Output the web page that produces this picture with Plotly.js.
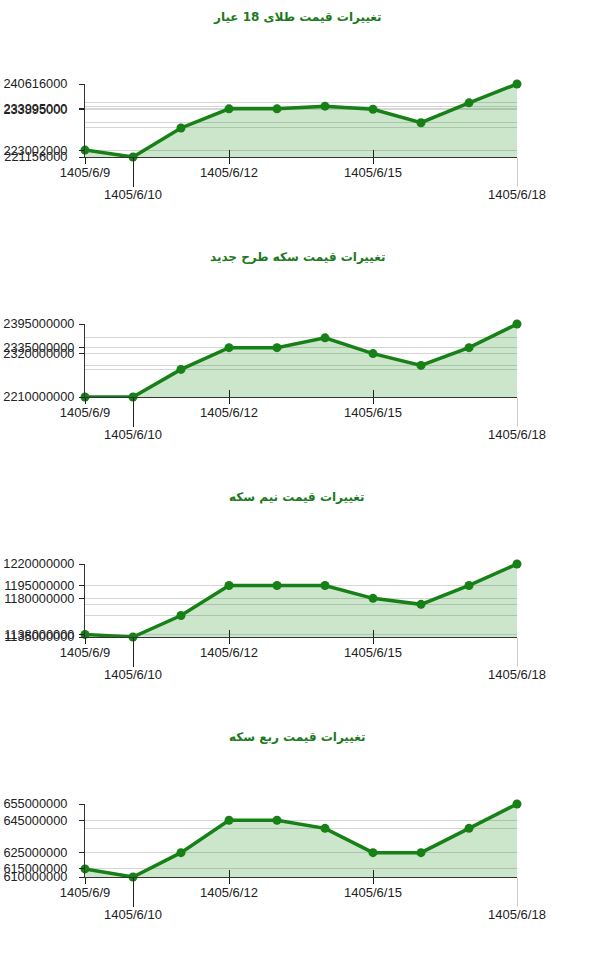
<!DOCTYPE html>
<html>
<head>
<meta charset="utf-8">
<script src="https://cdn.plot.ly/plotly-3.0.1.min.js"></script>
<style>
  html, body { margin: 0; padding: 0; background: #fff; }
  #chart { width: 600px; height: 960px; }
</style>
</head>
<body>
<div id="chart"></div>
<script>
    // --- DATA ---
    const days = [9, 10, 11, 12, 13, 14, 15, 16, 17, 18];
    const dateLabels = days.map(d => '1405/6/' + d);
    const upperDays = [9, 12, 15];     // labels on the first row
    const lowerDays = [10];            // labels pushed to the second row
    const lastDay = [18];              // second row, grey tick

    const titles = [
        'تغییرات قیمت طلای 18 عیار',
        'تغییرات قیمت سکه طرح جدید',
        'تغییرات قیمت نیم سکه',
        'تغییرات قیمت ربع سکه'
    ];

    const gold18 = [223002000, 221156000, 228900000, 233995000, 233995000, 234700000, 233895000, 230300000, 235600000, 240616000];
    const coinNew = [2210000000, 2210000000, 2280000000, 2335000000, 2335000000, 2360000000, 2320000000, 2290000000, 2335000000, 2395000000];
    const halfCoin = [1138000000, 1135000000, 1160000000, 1195000000, 1195000000, 1195000000, 1180000000, 1173000000, 1195000000, 1220000000];
    const quarterCoin = [615000000, 610000000, 625000000, 645000000, 645000000, 640000000, 625000000, 625000000, 640000000, 655000000];

    const series = [gold18, coinNew, halfCoin, quarterCoin];

    // --- STYLE ---
    const W = 600, H = 960;
    const green = '#178017';
    const tickFont = { family: 'Liberation Sans, Arial, sans-serif', size: 13, color: '#222' };
    const px = (v) => 1 - v / H;

    const traces = [];
    const layout = {
        width: W, height: H,
        margin: { l: 0, r: 0, t: 0, b: 0 },
        paper_bgcolor: '#fff',
        plot_bgcolor: 'rgba(0,0,0,0)',
        showlegend: false,
        annotations: []
    };

    series.forEach((vals, k) => {
        const off = 240 * k;
        const yId = k + 1;
        const xMain = 4 * k + 1;
        const yName = 'yaxis' + (yId === 1 ? '' : yId);
        const xName = (n) => 'xaxis' + (n === 1 ? '' : n);
        const xRef = (n) => 'x' + (n === 1 ? '' : n);
        const yRef = 'y' + (yId === 1 ? '' : yId);

        const minV = Math.min(...vals), maxV = Math.max(...vals);
        const labelDays = [9, 10, 12, 15, 18];
        const labelVals = labelDays.map(d => vals[days.indexOf(d)]);
        const longest = Math.max(...labelVals.map(v => String(v).length));

        // overlay axes only get drawn when a trace sits on them
        for (let j = 1; j <= 3; j++) {
            traces.push({
                x: days, y: vals,
                xaxis: xRef(xMain + j), yaxis: yRef,
                type: 'scatter', mode: 'markers',
                marker: { opacity: 0 },
                hoverinfo: 'skip'
            });
        }

        traces.push({
            x: days, y: vals,
            xaxis: xRef(xMain), yaxis: yRef,
            type: 'scatter', mode: 'lines+markers',
            line: { color: green, width: 3.5 },
            marker: { color: green, size: 9 },
            fill: 'tozeroy',
            fillcolor: 'rgba(0,128,0,0.2)',
            cliponaxis: false,
            hoverinfo: 'x+y'
        });

        const xRange = [9, 18];
        const xDomain = [85 / W, 517 / W];

        layout[xName(xMain)] = {
            domain: xDomain, anchor: yRef, range: xRange,
            tickmode: 'array', tickvals: upperDays,
            ticktext: upperDays.map(d => dateLabels[days.indexOf(d)]),
            ticks: 'outside', ticklen: 6, tickcolor: '#222', tickwidth: 1,
            ticklabelstandoff: -3,
            showline: true, linecolor: '#333', linewidth: 1,
            showgrid: false, zeroline: false, tickfont: tickFont,
            fixedrange: true
        };
        // second-row labels with long ticks
        layout[xName(xMain + 1)] = {
            overlaying: xRef(xMain), anchor: yRef, range: xRange,
            tickmode: 'array', tickvals: lowerDays,
            ticktext: lowerDays.map(d => dateLabels[days.indexOf(d)]),
            ticks: 'outside', ticklen: 29, tickcolor: '#222', tickwidth: 1,
            ticklabelstandoff: -4,
            showline: false, showgrid: false, zeroline: false, tickfont: tickFont
        };
        layout[xName(xMain + 2)] = {
            overlaying: xRef(xMain), anchor: yRef, range: xRange,
            tickmode: 'array', tickvals: lastDay,
            ticktext: lastDay.map(d => dateLabels[days.indexOf(d)]),
            ticks: 'outside', ticklen: 29, tickcolor: '#ccc', tickwidth: 1,
            ticklabelstandoff: -4,
            showline: false, showgrid: false, zeroline: false, tickfont: tickFont
        };
        // inner half of the crossing ticks
        layout[xName(xMain + 3)] = {
            overlaying: xRef(xMain), anchor: yRef, range: xRange,
            tickmode: 'array', tickvals: [12, 15], showticklabels: false,
            ticks: 'inside', ticklen: 7, tickcolor: '#222', tickwidth: 1,
            showline: false, showgrid: false, zeroline: false
        };

        layout[yName] = {
            domain: [px(157 + off), px(84 + off)],
            anchor: xRef(xMain), range: [minV, maxV],
            tickmode: 'array', tickvals: labelVals,
            ticktext: labelVals.map(v => String(v)),
            ticks: 'outside', ticklen: 5, tickcolor: '#222', tickwidth: 1,
            ticklabelstandoff: 2 + (10 - longest) * 7,
            showline: true, linecolor: '#333', linewidth: 1,
            showgrid: true, gridcolor: '#d6d6d6', gridwidth: 1,
            zeroline: false, tickfont: { ...tickFont, size: 12.8 },
            minor: { tickmode: 'array', tickvals: vals, showgrid: true, gridcolor: '#d6d6d6', gridwidth: 1, ticks: '' },
            fixedrange: true
        };

        layout.annotations.push({
            text: '<b>' + titles[k] + '</b>',
            xref: 'paper', yref: 'paper',
            x: 0.495, y: px(17 + off),
            xanchor: 'center', yanchor: 'middle',
            showarrow: false,
            font: { family: 'DejaVu Sans, sans-serif', size: 12, color: '#1c7a1c' }
        });
    });

    Plotly.newPlot('chart', traces, layout, { displayModeBar: false, staticPlot: true });
</script>
</body>
</html>
